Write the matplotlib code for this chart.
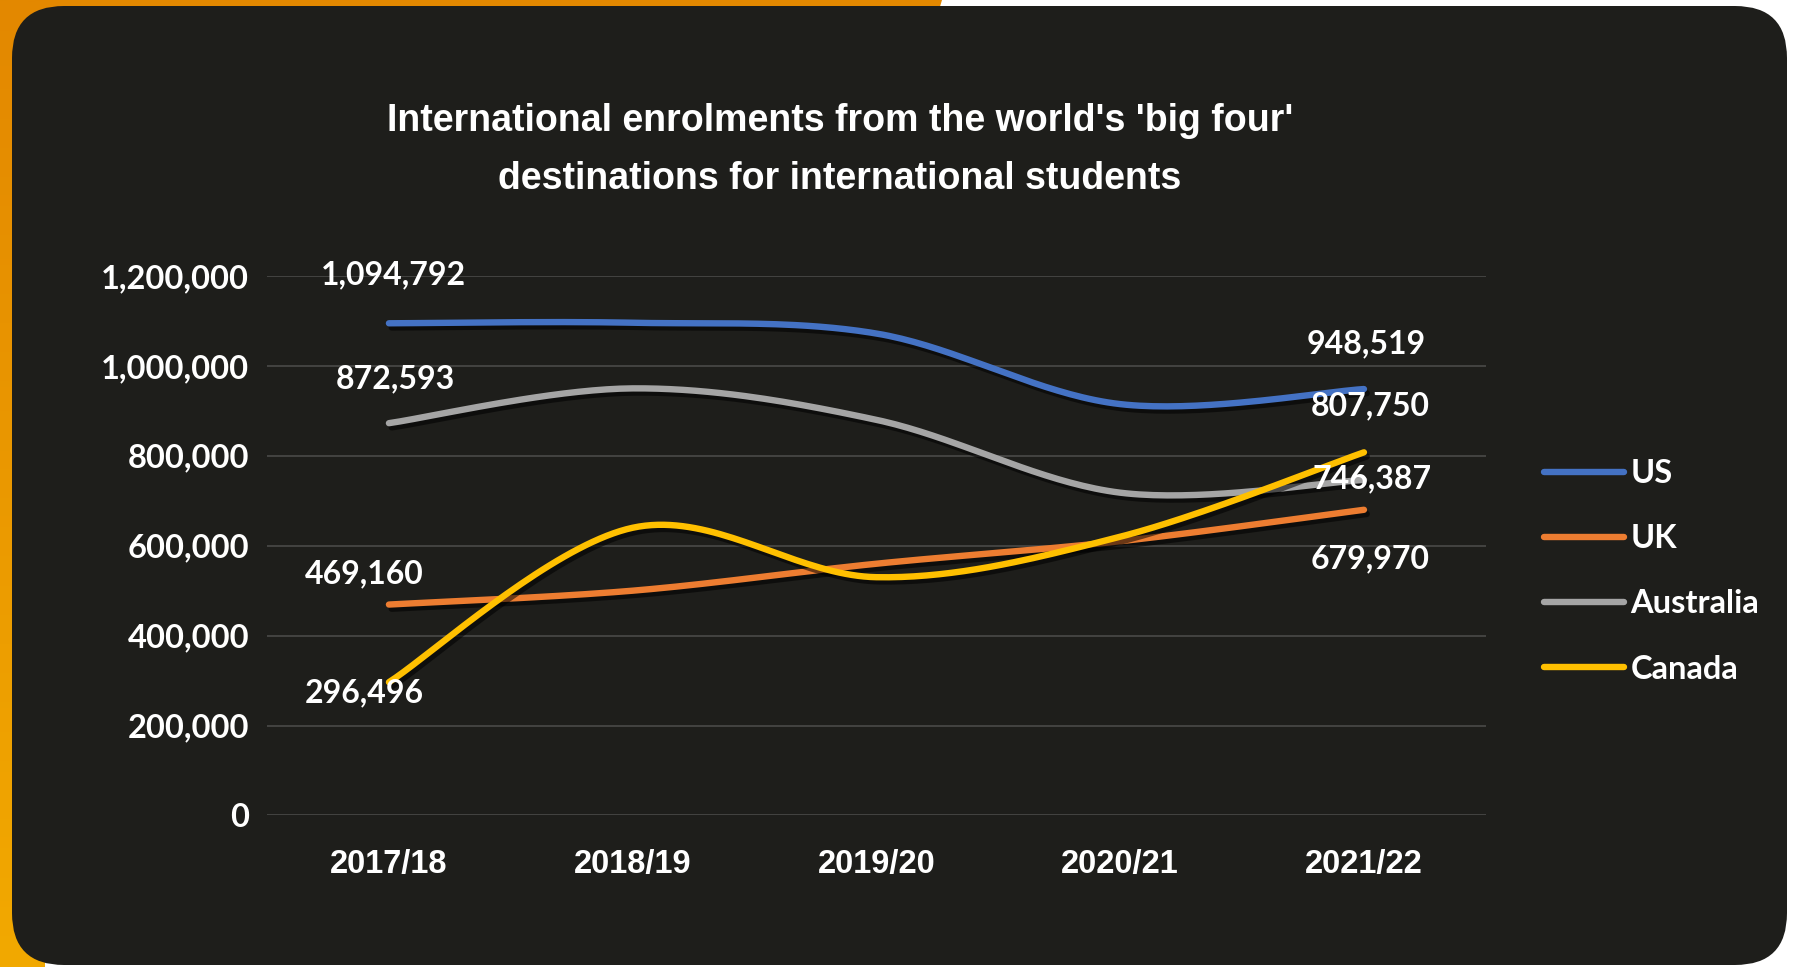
import numpy as np
import matplotlib
matplotlib.use("Agg")
import matplotlib.pyplot as plt
from matplotlib.patches import FancyBboxPatch, Polygon
import matplotlib.patheffects as pe

# ---- data -------------------------------------------------------------
years = ["2017/18", "2018/19", "2019/20", "2020/21", "2021/22"]
us = [1094792, 1096000, 1072000, 915000, 948519]
uk = [469160, 500000, 560000, 610000, 679970]
australia = [872593, 950000, 880000, 718000, 746387]
canada = [296496, 640000, 530000, 620000, 807750]

series_names = ["US", "UK", "Australia", "Canada"]
series_values = [us, uk, australia, canada]
series_colors = ["#4472C4", "#ED7D31", "#A5A5A5", "#FFC000"]

y_ticks = [0, 200000, 400000, 600000, 800000, 1000000, 1200000]
y_tick_labels = ["0", "200,000", "400,000", "600,000", "800,000", "1,000,000", "1,200,000"]

title_lines = ["International enrolments from the world's 'big four'",
               "destinations for international students"]

# ---- styling ----------------------------------------------------------
W, H = 1796, 967
DARK = "#1e1e1b"
NUM_FONT = ["Lato", "DejaVu Sans"]
NARROW_FONT = ["Liberation Sans Narrow", "Liberation Sans", "DejaVu Sans"]


def smooth_curve(xs, ys, steps=40):
    """Cardinal (Catmull-Rom style) Bezier smoothing through every point."""
    P = np.column_stack([xs, ys]).astype(float)
    n = len(P)
    out = [P[0]]
    t = np.linspace(0, 1, steps)[1:, None]
    for i in range(n - 1):
        p0 = P[max(i - 1, 0)]
        p1 = P[i]
        p2 = P[i + 1]
        p3 = P[min(i + 2, n - 1)]
        c1 = p1 + (p2 - p0) / 6.0
        c2 = p2 - (p3 - p1) / 6.0
        seg = ((1 - t) ** 3) * p1 + 3 * ((1 - t) ** 2) * t * c1 \
            + 3 * (1 - t) * t ** 2 * c2 + t ** 3 * p2
        out.extend(seg)
    out = np.array(out)
    return out[:, 0], out[:, 1]


fig = plt.figure(figsize=(W / 100, H / 100), dpi=100)
fig.patch.set_facecolor("white")

# background panel: orange frame corner + rounded dark card
bg = fig.add_axes([0, 0, 1, 1], zorder=-10)
bg.set_xlim(0, W)
bg.set_ylim(H, 0)
bg.axis("off")
frame = Polygon([(0, 0), (942, 0), (930, 40), (45, 40), (45, H), (0, H)],
                closed=True, facecolor="none", edgecolor="none")
bg.add_patch(frame)
grad = np.linspace(0, 1, 256)[:, None]
c_top = np.array(matplotlib.colors.to_rgb("#e38800"))
c_bot = np.array(matplotlib.colors.to_rgb("#f2a900"))
img = c_top[None, None, :] * (1 - grad[:, :, None]) + c_bot[None, None, :] * grad[:, :, None]
im = bg.imshow(img, extent=(0, W, H, 0), aspect="auto", interpolation="bilinear")
im.set_clip_path(frame)
card = FancyBboxPatch((12, 6), 1775, 959, boxstyle="round,pad=0,rounding_size=52",
                      facecolor=DARK, edgecolor="none")
bg.add_patch(card)

# title
for i, line in enumerate(title_lines):
    fig.text(840 / W, 1 - (121 + 58 * i) / H, line, ha="center", va="center",
             color="white", fontsize=27, fontweight="bold", family=NARROW_FONT)

# main plot
ax = fig.add_axes([0.1487, 0.1567, 0.6786, 0.5579])
ax.set_facecolor("none")
ax.set_xlim(-0.5, 4.5)
ax.set_ylim(0, 1200000)
for s in ax.spines.values():
    s.set_visible(False)
ax.set_yticks(y_ticks)
ax.set_yticklabels(y_tick_labels)
ax.set_xticks(range(len(years)))
ax.set_xticklabels(years)
ax.tick_params(axis="both", length=0, colors="white")
ax.tick_params(axis="y", pad=13)
ax.tick_params(axis="x", pad=24)
for lab in ax.get_yticklabels():
    lab.set_family(NUM_FONT)
    lab.set_fontsize(23.5)
    lab.set_fontweight("bold")
for lab in ax.get_xticklabels():
    lab.set_family(NARROW_FONT)
    lab.set_fontsize(23.5)
    lab.set_fontweight("bold")
ax.yaxis.grid(True, color="#4e4e4c", linewidth=1.1)
ax.set_axisbelow(True)

xs = np.arange(len(years))
shadow = [pe.SimpleLineShadow(offset=(2, -3), shadow_color="black", alpha=0.55),
          pe.Normal()]
for name, vals, col in zip(series_names, series_values, series_colors):
    sx, sy = smooth_curve(xs, vals)
    ax.plot(sx, sy, color=col, lw=4.6, solid_capstyle="round", label=name,
            path_effects=shadow, zorder=3)

# value labels at the first and last year (offsets in pixels)
label_offsets = {
    "US": [(5, 48), (2, 45)],
    "UK": [(-25, 31), (6, -49)],
    "Australia": [(6, 44), (8, 1)],
    "Canada": [(-25, -11), (6, 47)],
}
for name, vals in zip(series_names, series_values):
    for k, idx in enumerate([0, len(vals) - 1]):
        dx, dy = label_offsets[name][k]
        ax.annotate(f"{vals[idx]:,}", (xs[idx], vals[idx]), xytext=(dx, dy),
                    textcoords="offset pixels", ha="center", va="center",
                    color="white", fontsize=23, fontweight="bold",
                    family=NUM_FONT, zorder=5)

leg = ax.legend(loc="upper left", bbox_to_anchor=(1544 / W, 1 - 459 / H),
                bbox_transform=fig.transFigure, frameon=False,
                handlelength=2.45, handletextpad=0.2, labelspacing=1.11,
                borderpad=0, borderaxespad=0,
                prop={"family": NUM_FONT, "size": 23.5, "weight": "bold"})
for t in leg.get_texts():
    t.set_color("white")
for h in leg.legend_handles:
    h.set_path_effects([])
    h.set_linewidth(4.6)

fig.savefig("out.png", dpi=100, facecolor=fig.get_facecolor())
